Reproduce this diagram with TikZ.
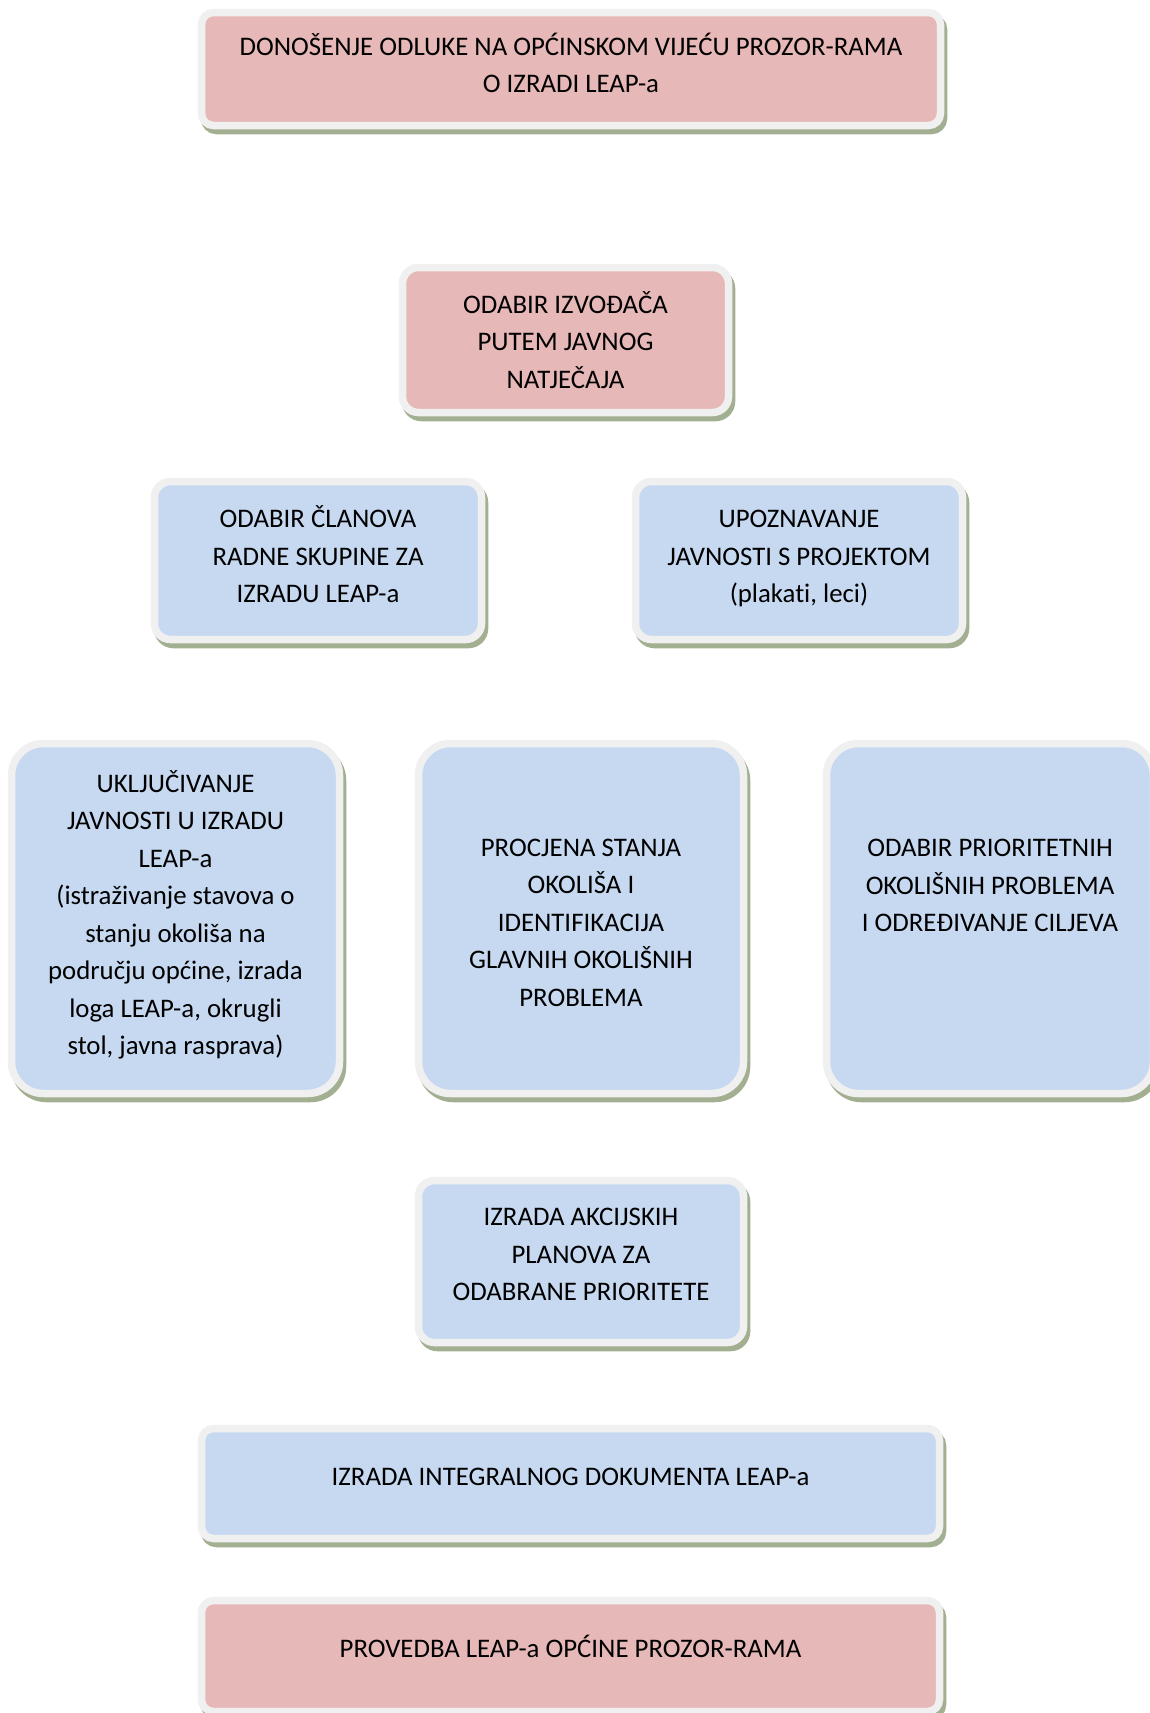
\documentclass[tikz,border=0pt]{standalone}
\usepackage{fontspec}
\setmainfont[Ligatures=NoCommon]{Carlito}
\definecolor{pinkfill}{HTML}{E6B8B7}
\definecolor{bluefill}{HTML}{C6D9F1}
\definecolor{framec}{HTML}{F0F0F0}
\definecolor{shadowc}{HTML}{A2AF90}
\newcommand\stagetext[2]{\raisebox{#1}[\height][\depth]{\begin{tabular}{@{}c@{}}#2\end{tabular}}}
\tikzset{
  stage/.style={rectangle, draw=framec, line width=7.5pt, inner sep=0pt, outer sep=0pt,
    font=\fontsize{26.8}{37.5}\selectfont,
    preaction={draw=shadowc, fill=shadowc, line width=7.5pt, transform canvas={shift={(3pt,-5pt)}}}},
  pinkbox/.style={stage, fill=pinkfill},
  bluebox/.style={stage, fill=bluefill},
  smallr/.style={rounded corners=12pt},
  midr/.style={rounded corners=16pt},
  bigr/.style={rounded corners=32pt}
}
\begin{document}
\begin{tikzpicture}[x=1pt, y=-1pt]
\useasboundingbox[fill=white] (0,0) rectangle (1149,1713);
\node[pinkbox, smallr, minimum width=739pt, minimum height=113pt] (b1) at (571,69)
  {\stagetext{2.5pt}{DONOŠENJE ODLUKE NA OPĆINSKOM VIJEĆU PROZOR-RAMA\\O IZRADI LEAP-a}};
\node[pinkbox, midr, minimum width=326pt, minimum height=145pt] (b2) at (565.5,340)
  {\stagetext{-3pt}{ODABIR IZVOĐAČA\\PUTEM JAVNOG\\NATJEČAJA}};
\node[bluebox, midr, minimum width=327pt, minimum height=158pt] (b3) at (318,560.5)
  {\stagetext{3pt}{ODABIR ČLANOVA\\RADNE SKUPINE ZA\\IZRADU LEAP-a}};
\node[bluebox, midr, minimum width=327pt, minimum height=158pt] (b4) at (799,560.5)
  {\stagetext{3pt}{UPOZNAVANJE\\JAVNOSTI S PROJEKTOM\\(plakati, leci)}};
\node[bluebox, bigr, minimum width=328pt, minimum height=350pt] (b5) at (175.5,918.5)
  {\stagetext{2.5pt}{UKLJUČIVANJE\\JAVNOSTI U IZRADU\\LEAP-a\\(istraživanje stavova o\\stanju okoliša na\\području općine, izrada\\loga LEAP-a, okrugli\\stol, javna rasprava)}};
\node[bluebox, bigr, minimum width=325pt, minimum height=350pt] (b6) at (581,918.5)
  {\stagetext{-5pt}{PROCJENA STANJA\\OKOLIŠA I\\IDENTIFIKACIJA\\GLAVNIH OKOLIŠNIH\\PROBLEMA}};
\node[bluebox, bigr, minimum width=327pt, minimum height=350pt] (b7) at (990,918.5)
  {\stagetext{32pt}{ODABIR PRIORITETNIH\\OKOLIŠNIH PROBLEMA\\I ODREĐIVANJE CILJEVA}};
\node[bluebox, midr, minimum width=325pt, minimum height=162pt] (b8) at (581,1261.5)
  {\stagetext{6pt}{IZRADA AKCIJSKIH\\PLANOVA ZA\\ODABRANE PRIORITETE}};
\node[bluebox, smallr, minimum width=738pt, minimum height=110pt] (b9) at (570.5,1483.5)
  {\stagetext{5.5pt}{IZRADA INTEGRALNOG DOKUMENTA LEAP-a}};
\node[pinkbox, smallr, minimum width=738pt, minimum height=111pt] (b10) at (570.5,1656)
  {\stagetext{6pt}{PROVEDBA LEAP-a OPĆINE PROZOR-RAMA}};
\end{tikzpicture}
\end{document}
